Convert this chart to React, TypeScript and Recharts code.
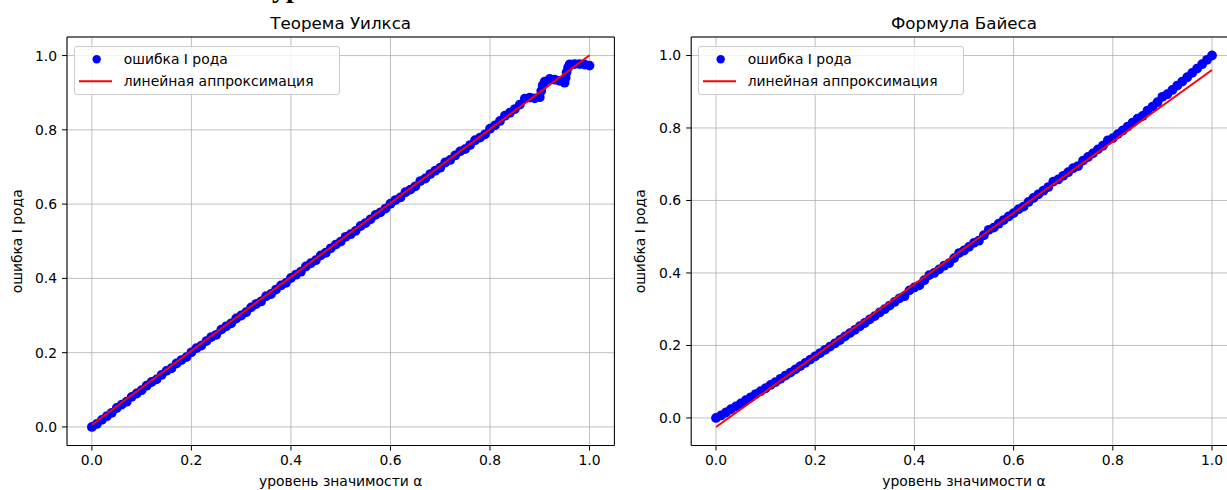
import React from 'react';
import { ComposedChart, Scatter, XAxis, YAxis, CartesianGrid, ReferenceArea } from 'recharts';

// significance level grid (shared by both panels)
const ALPHA = [
  0, 0.01, 0.02, 0.03, 0.04, 0.05, 0.06, 0.07, 0.08, 0.09,
  0.1, 0.11, 0.12, 0.13, 0.14, 0.15, 0.16, 0.17, 0.18, 0.19,
  0.2, 0.21, 0.22, 0.23, 0.24, 0.25, 0.26, 0.27, 0.28, 0.29,
  0.3, 0.31, 0.32, 0.33, 0.34, 0.35, 0.36, 0.37, 0.38, 0.39,
  0.4, 0.41, 0.42, 0.43, 0.44, 0.45, 0.46, 0.47, 0.48, 0.49,
  0.5, 0.51, 0.52, 0.53, 0.54, 0.55, 0.56, 0.57, 0.58, 0.59,
  0.6, 0.61, 0.62, 0.63, 0.64, 0.65, 0.66, 0.67, 0.68, 0.69,
  0.7, 0.71, 0.72, 0.73, 0.74, 0.75, 0.76, 0.77, 0.78, 0.79,
  0.8, 0.81, 0.82, 0.83, 0.84, 0.85, 0.86, 0.87, 0.88, 0.89,
  0.9, 0.91, 0.92, 0.93, 0.94, 0.95, 0.96, 0.97, 0.98, 0.99,
  1.0,
];

// left panel: Wilks theorem, type I error
const WILKS_ERR = [
  0.000, 0.008, 0.019, 0.029, 0.038, 0.051, 0.060, 0.068, 0.081, 0.090,
  0.099, 0.111, 0.121, 0.128, 0.140, 0.151, 0.158, 0.171, 0.180, 0.188,
  0.201, 0.212, 0.219, 0.231, 0.242, 0.248, 0.262, 0.271, 0.279, 0.292,
  0.300, 0.309, 0.322, 0.331, 0.338, 0.352, 0.358, 0.370, 0.381, 0.388,
  0.401, 0.410, 0.418, 0.432, 0.441, 0.449, 0.462, 0.469, 0.481, 0.491,
  0.499, 0.512, 0.519, 0.528, 0.541, 0.549, 0.559, 0.571, 0.578, 0.588,
  0.601, 0.611, 0.618, 0.632, 0.639, 0.648, 0.662, 0.669, 0.681, 0.690,
  0.698, 0.712, 0.719, 0.731, 0.742, 0.748, 0.759, 0.772, 0.779, 0.788,
  0.803, 0.812, 0.824, 0.838, 0.846, 0.856, 0.868, 0.884, 0.887, 0.885,
  0.888, 0.930, 0.937, 0.935, 0.932, 0.927, 0.976, 0.977, 0.977, 0.976,
  0.973,
];
// extra points on the two steps near the end
const WILKS_STEP_ALPHA = [0.903, 0.906, 0.952, 0.954, 0.957];
const WILKS_STEP_ERR = [0.905, 0.920, 0.940, 0.955, 0.968];

// right panel: Bayes formula, type I error
const BAYES_ERR = [
  0.000, 0.007, 0.015, 0.024, 0.032, 0.040, 0.049, 0.057, 0.066, 0.074,
  0.082, 0.091, 0.099, 0.108, 0.117, 0.125, 0.134, 0.143, 0.152, 0.161,
  0.170, 0.179, 0.188, 0.197, 0.206, 0.215, 0.225, 0.234, 0.243, 0.253,
  0.262, 0.272, 0.281, 0.291, 0.300, 0.310, 0.320, 0.330, 0.336, 0.352,
  0.360, 0.366, 0.380, 0.394, 0.400, 0.410, 0.420, 0.427, 0.441, 0.455,
  0.462, 0.472, 0.483, 0.489, 0.504, 0.519, 0.525, 0.536, 0.546, 0.556,
  0.565, 0.576, 0.583, 0.596, 0.607, 0.617, 0.627, 0.637, 0.652, 0.658,
  0.668, 0.678, 0.689, 0.695, 0.710, 0.720, 0.730, 0.741, 0.751, 0.766,
  0.772, 0.783, 0.793, 0.804, 0.815, 0.826, 0.833, 0.848, 0.859, 0.871,
  0.886, 0.893, 0.905, 0.917, 0.928, 0.940, 0.952, 0.964, 0.976, 0.988,
  1.000,
];

// linear fits
const FIT_ALPHA = [0, 1];
const WILKS_FIT = [0.006, 1.001];
const BAYES_FIT = [-0.025, 0.96];

const TICKS = [0, 0.2, 0.4, 0.6, 0.8, 1.0];

const WILKS_TITLE = 'Теорема Уилкса';
const BAYES_TITLE = 'Формула Байеса';
const SERIES_NAME = 'ошибка I рода';
const FIT_NAME = 'линейная аппроксимация';
const X_LABEL = 'уровень значимости α';
const Y_LABEL = 'ошибка I рода';

const FONT = 'DejaVu Sans, sans-serif';
const tickStyle = { fontFamily: FONT, fontSize: 13.9, fill: '#000' };

const wilksPoints = ALPHA.map((x, i) => ({ x, y: WILKS_ERR[i] })).concat(
  WILKS_STEP_ALPHA.map((x, i) => ({ x, y: WILKS_STEP_ERR[i] }))
);
const bayesPoints = ALPHA.map((x, i) => ({ x, y: BAYES_ERR[i] }));
const wilksFit = FIT_ALPHA.map((x, i) => ({ x, y: WILKS_FIT[i] }));
const bayesFit = FIT_ALPHA.map((x, i) => ({ x, y: BAYES_FIT[i] }));

const Dot = (props: any) => <circle cx={props.cx} cy={props.cy} r={4.9} fill="#0000ff" />;
const NoDot = () => <g />;

const LegendBox = ({ left }: { left: number }) => (
  <div
    style={{
      position: 'absolute', left, top: 45.7, width: 266, height: 49, boxSizing: 'border-box',
      border: '1px solid #cccccc', borderRadius: 3, background: 'rgba(255,255,255,0.8)',
    }}
  >
    <svg width={266} height={49} style={{ position: 'absolute', left: -1, top: -1 }}>
      <circle cx={22.7} cy={13.3} r={4.2} fill="#0000ff" />
      <line x1={5} x2={38} y1={35.3} y2={35.3} stroke="#ff0000" strokeWidth={2} />
      <text x={49.7} y={18} fontFamily={FONT} fontSize={13.9} fill="#000">{SERIES_NAME}</text>
      <text x={49.7} y={40} fontFamily={FONT} fontSize={13.9} fill="#000">{FIT_NAME}</text>
    </svg>
  </div>
);

interface PanelProps {
  left: number;
  points: { x: number; y: number }[];
  fit: { x: number; y: number }[];
  yDomain: [number, number];
  marginLeft: number;
  marginRight: number;
}

const Panel = ({ left, points, fit, yDomain, marginLeft, marginRight }: PanelProps) => (
  <div style={{ position: 'absolute', left, top: 0 }}>
    <ComposedChart
      width={640}
      height={490}
      margin={{ top: 37, right: marginRight, bottom: 14.5, left: marginLeft }}
    >
      <CartesianGrid stroke="#b0b0b0" strokeWidth={0.8} />
      <XAxis
        dataKey="x"
        type="number"
        domain={[-0.05, 1.05]}
        allowDataOverflow
        ticks={TICKS}
        tickFormatter={(v: number) => v.toFixed(1)}
        tick={tickStyle}
        tickSize={5}
        tickMargin={5}
        tickLine={{ stroke: '#000' }}
        axisLine={false}
        height={30}
      />
      <YAxis
        dataKey="y"
        type="number"
        domain={yDomain}
        allowDataOverflow
        ticks={TICKS}
        tickFormatter={(v: number) => v.toFixed(1)}
        tick={tickStyle}
        tickSize={5}
        tickMargin={5}
        tickLine={{ stroke: '#000' }}
        axisLine={false}
        width={50}
      />
      <Scatter data={points} dataKey="y" shape={Dot} isAnimationActive={false} />
      <Scatter
        data={fit}
        dataKey="y"
        shape={NoDot}
        line={{ stroke: '#ff0000', strokeWidth: 2 }}
        isAnimationActive={false}
      />
      <ReferenceArea x1={-0.05} x2={1.05} y1={yDomain[0]} y2={yDomain[1]} fill="none" fillOpacity={0} stroke="#000" strokeWidth={1} />
    </ComposedChart>
  </div>
);

export default function App() {
  return (
    <div style={{ position: 'absolute', left: 0, top: 0, width: 1227, height: 490, overflow: 'hidden', background: '#fff' }}>
      <Panel left={0} points={wilksPoints} fit={wilksFit} yDomain={[-0.05, 1.05]} marginLeft={17} marginRight={25.6} />
      <Panel left={620} points={bayesPoints} fit={bayesFit} yDomain={[-0.076, 1.051]} marginLeft={21.2} marginRight={23.2} />
      <LegendBox left={74} />
      <LegendBox left={698} />
      <svg width={1227} height={490} style={{ position: 'absolute', left: 0, top: 0, pointerEvents: 'none' }}>
        <text x={272} y={-3} fontFamily="Liberation Serif, serif" fontSize={28} fontWeight="bold" fill="#000">уровень</text>
        <text x={340.7} y={29} textAnchor="middle" fontFamily={FONT} fontSize={16.7} fill="#000">{WILKS_TITLE}</text>
        <text x={964} y={29} textAnchor="middle" fontFamily={FONT} fontSize={16.7} fill="#000">{BAYES_TITLE}</text>
        <text x={340.7} y={486} textAnchor="middle" fontFamily={FONT} fontSize={13.9} fill="#000">{X_LABEL}</text>
        <text x={964} y={486} textAnchor="middle" fontFamily={FONT} fontSize={13.9} fill="#000">{X_LABEL}</text>
        <text x={22} y={241.3} textAnchor="middle" fontFamily={FONT} fontSize={13.9} fill="#000" transform="rotate(-90 22 241.3)">{Y_LABEL}</text>
        <text x={645} y={241.3} textAnchor="middle" fontFamily={FONT} fontSize={13.9} fill="#000" transform="rotate(-90 645 241.3)">{Y_LABEL}</text>
      </svg>
    </div>
  );
}
